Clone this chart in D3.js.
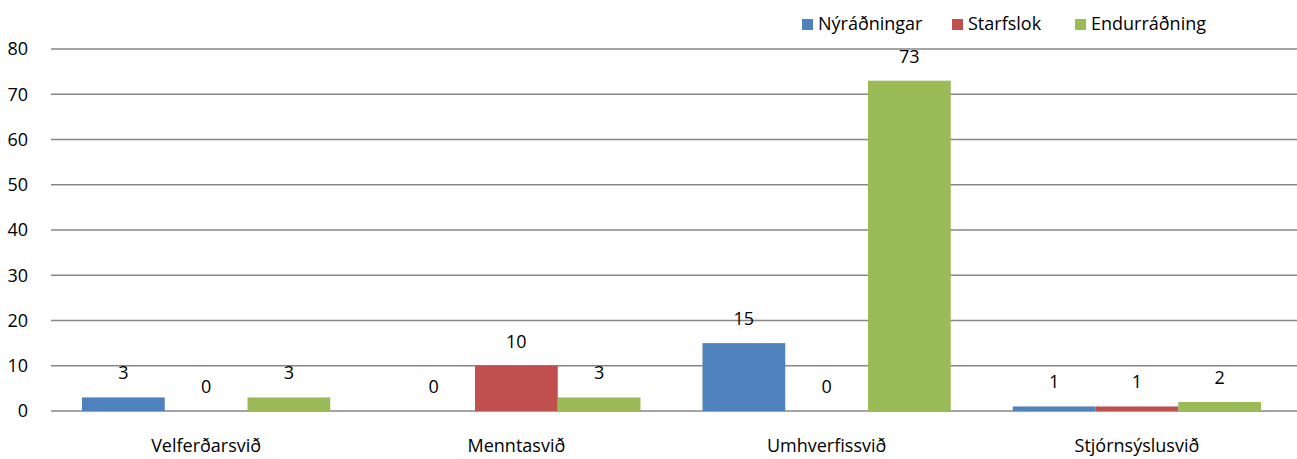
<!DOCTYPE html>
<html>
<head>
<meta charset="utf-8">
<script src="https://cdn.jsdelivr.net/npm/d3@7"></script>
<style>
  body { margin: 0; background: #fff; }
  text { font-family: "Open Sans", sans-serif; fill: #000; font-size: 18px; }
</style>
</head>
<body>
<script>
"use strict"

const categories = ['Velferðarsvið', 'Menntasvið', 'Umhverfissvið', 'Stjórnsýslusvið'];
const seriesNames = ['Nýráðningar', 'Starfslok', 'Endurráðning'];
const nyradningar = [3, 0, 15, 1];
const starfslok = [0, 10, 0, 1];
const endurradning = [3, 3, 73, 2];
const yTicks = [0, 10, 20, 30, 40, 50, 60, 70, 80];
const colors = ['#4F81BD', '#C0504D', '#9BBB59'];

const w = 1297;
const h = 459;
const plotLeft = 51;
const plotRight = 1292;
const plotTop = 49;
const plotBottom = 411;

const values = [nyradningar, starfslok, endurradning];

const svg = d3.select('body')
	.append('svg')
	.attr('width', w)
	.attr('height', h);

const xScale = d3.scaleBand()
	.domain(categories)
	.range([plotLeft, plotRight]);

const xInner = d3.scaleBand()
	.domain(seriesNames)
	.range([31, xScale.bandwidth() - 31]);

const yScale = d3.scaleLinear()
	.domain([0, 80])
	.range([plotBottom, plotTop]);

// gridlines
svg.append('g')
	.selectAll('line')
	.data(yTicks)
	.enter()
	.append('line')
	.attr('x1', plotLeft)
	.attr('x2', w)
	.attr('y1', d => yScale(d))
	.attr('y2', d => yScale(d))
	.attr('stroke', '#868686')
	.attr('stroke-width', 1.6);

// y labels
svg.append('g')
	.selectAll('text')
	.data(yTicks)
	.enter()
	.append('text')
	.attr('x', 28)
	.attr('y', d => yScale(d))
	.attr('dy', '0.36em')
	.attr('text-anchor', 'end')
	.text(d => d);

// bars
const rows = [];
categories.forEach((c, i) => {
	seriesNames.forEach((s, j) => {
		rows.push({ cat: c, series: s, value: values[j][i], color: colors[j] });
	});
});

svg.append('g')
	.selectAll('rect')
	.data(rows)
	.enter()
	.append('rect')
	.attr('x', d => xScale(d.cat) + xInner(d.series))
	.attr('y', d => yScale(d.value))
	.attr('width', xInner.bandwidth())
	.attr('height', d => plotBottom - yScale(d.value))
	.attr('fill', d => d.color);

// value labels
svg.append('g')
	.selectAll('text')
	.data(rows)
	.enter()
	.append('text')
	.attr('x', d => xScale(d.cat) + xInner(d.series) + xInner.bandwidth() / 2)
	.attr('y', d => yScale(d.value) - 18)
	.attr('text-anchor', 'middle')
	.text(d => d.value);

// category labels
svg.append('g')
	.selectAll('text')
	.data(categories)
	.enter()
	.append('text')
	.attr('x', d => xScale(d) + xScale.bandwidth() / 2)
	.attr('y', 452)
	.attr('text-anchor', 'middle')
	.text(d => d);

// legend
const legendX = [802, 952, 1075];
const legend = svg.append('g').attr('id', 'legend');
seriesNames.forEach((s, i) => {
	legend.append('rect')
		.attr('x', legendX[i])
		.attr('y', 19)
		.attr('width', 11)
		.attr('height', 11)
		.attr('fill', colors[i]);
	legend.append('text')
		.attr('x', legendX[i] + 16)
		.attr('y', 30)
		.text(s);
});
</script>
</body>
</html>
